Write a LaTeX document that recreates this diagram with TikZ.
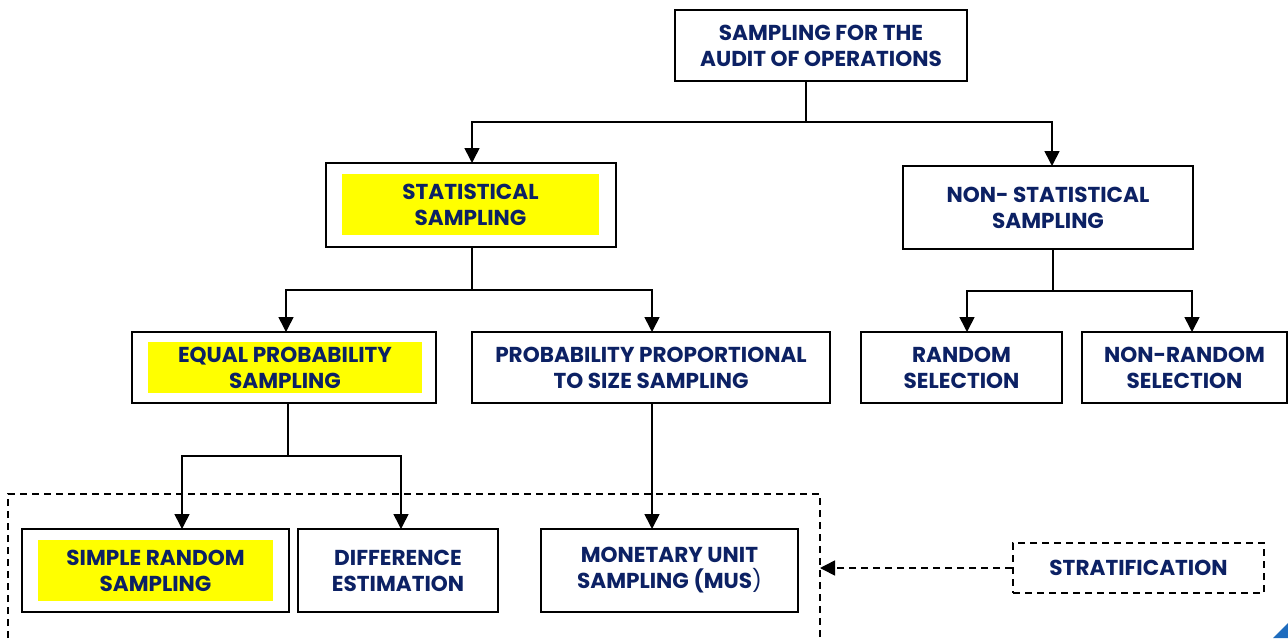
\documentclass[tikz,border=0pt]{standalone}
\usepackage{fontspec}
\setmainfont{Poppins}
\usetikzlibrary{arrows.meta,calc}
\definecolor{navy}{HTML}{0C2164}
\definecolor{hilite}{HTML}{FFFF00}
\definecolor{cornerblue}{HTML}{1E6CBE}
\tikzset{
  box/.style={draw=black, line width=1.8pt, fill=white, inner sep=0pt, outer sep=0pt},
  txt/.style={font=\bfseries\fontsize{21.6}{26}\selectfont, text=navy, align=center, inner sep=0pt},
  hibox/.style={fill=hilite, inner sep=0pt, font=\bfseries\fontsize{21.6}{26}\selectfont, text=navy, align=center},
  link/.style={line width=1.6pt, draw=black},
  arr/.style={link, -{Triangle[width=15pt,length=15pt]}},
  dashline/.style={line width=1.6pt, dash pattern=on 7pt off 5pt},
}
\begin{document}
\begin{tikzpicture}[x=1pt,y=-1pt]
\useasboundingbox[fill=white] (0,0) rectangle (1288,638);

% root
\node[box, minimum width=292pt, minimum height=71pt, txt] (top) at (821,45.5)
  {SAMPLING FOR THE\\AUDIT OF OPERATIONS};

% second level
\node[box, minimum width=290pt, minimum height=84pt] (stat) at (471,205) {};
\node[hibox, minimum width=257pt, minimum height=61pt] (stathi) at (470.5,204.5)
  {STATISTICAL\\SAMPLING};
\node[box, minimum width=290pt, minimum height=83pt, txt] (nonstat) at (1048,207.5)
  {NON- STATISTICAL\\SAMPLING};

% third level
\node[box, minimum width=304pt, minimum height=71pt] (equal) at (284,367.5) {};
\node[hibox, minimum width=274pt, minimum height=51pt] (equalhi) at (285,367.5)
  {EQUAL PROBABILITY\\SAMPLING};
\node[box, minimum width=358pt, minimum height=71pt, txt] (pps) at (651,367.5)
  {PROBABILITY PROPORTIONAL\\TO SIZE SAMPLING};
\node[box, minimum width=201pt, minimum height=71pt, txt] (random) at (961.5,367.5)
  {RANDOM\\SELECTION};
\node[box, minimum width=205pt, minimum height=71pt, txt] (nonrandom) at (1184.5,367.5)
  {NON-RANDOM\\SELECTION};

% stratified group
\draw[dashline] (8,650) -- (8,494) -- (820,494) -- (820,650);
\coordinate (grp) at (820,568);

\node[box, minimum width=267pt, minimum height=83pt] (simple) at (155.5,570.5) {};
\node[hibox, minimum width=235pt, minimum height=61pt] (simplehi) at (155.5,570.5)
  {SIMPLE RANDOM\\SAMPLING};
\node[box, minimum width=200pt, minimum height=83pt, txt] (diff) at (398,570.5)
  {DIFFERENCE\\ESTIMATION};
\node[box, minimum width=257pt, minimum height=83pt, txt] (mus) at (669.5,570.5)
  {MONETARY UNIT\\SAMPLING (MUS{\mdseries)}};

\node[draw=black, dashline, minimum width=251pt, minimum height=50pt, txt] (strat) at (1138.5,568)
  {STRATIFICATION};

% connectors
\coordinate (j0) at (806,122);
\draw[link] (top.south -| j0) -- (j0);
\draw[arr] (j0) -| ($(stat.north)+(1,0)$);
\draw[arr] (j0) -| ($(nonstat.north)+(4,0)$);

\coordinate (j1) at (472,290);
\draw[link] (stat.south -| j1) -- (j1);
\draw[arr] (j1) -| ($(equal.north)+(2,0)$);
\draw[arr] (j1) -| ($(pps.north)+(1,0)$);

\coordinate (j2) at (1053,291);
\draw[link] (nonstat.south -| j2) -- (j2);
\draw[arr] (j2) -| ($(random.north)+(5.5,0)$);
\draw[arr] (j2) -| ($(nonrandom.north)+(7.5,0)$);

\coordinate (j3) at (288,456);
\draw[link] (equal.south -| j3) -- (j3);
\draw[arr] (j3) -| ($(simple.north)+(26.5,0)$);
\draw[arr] (j3) -| ($(diff.north)+(3,0)$);

\coordinate (j4) at (652,403);
\draw[arr] (pps.south -| j4) -- (mus.north -| j4);

\draw[dashline, -{Triangle[width=15pt,length=15pt]}] (strat.west) -- (grp);

% page corner mark
\fill[cornerblue] (1273,638) -- (1288,623) -- (1288,638) -- cycle;
\end{tikzpicture}
\end{document}
